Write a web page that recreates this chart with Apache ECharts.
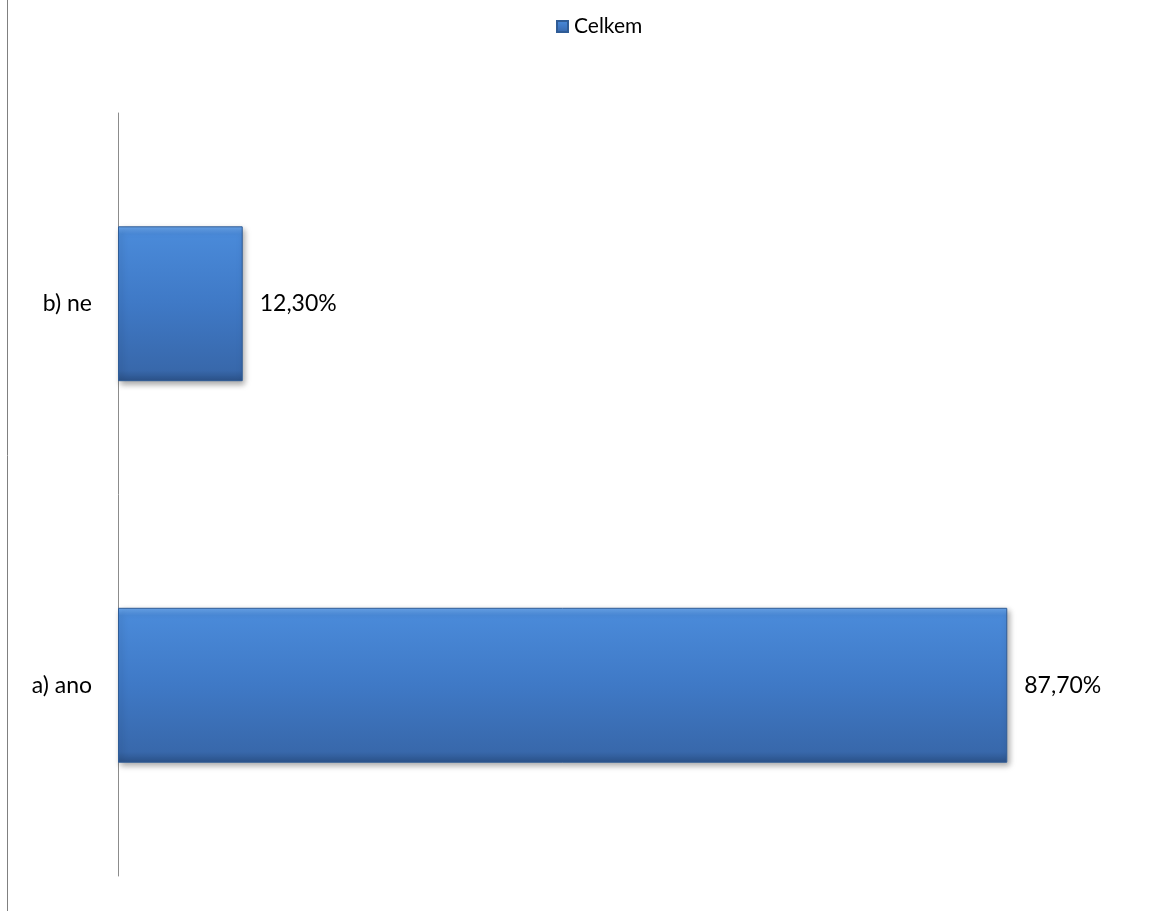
<!DOCTYPE html>
<html>
<head>
<meta charset="utf-8">
<script src="https://cdn.jsdelivr.net/npm/echarts@6/dist/echarts.min.js"></script>
<style>html,body{margin:0;padding:0;background:#fff}#c{width:1158px;height:911px}</style>
</head>
<body>
<div id="c"></div>
<script>
const categories = ['a) ano', 'b) ne'];
const seriesName = 'Celkem';
const values = [87.7, 12.3];
const axisMax = 100;

const chart = echarts.init(document.getElementById('c'));
const FONT = 'Lato, "Open Sans", sans-serif';
const fmt = v => v.toFixed(2).replace('.', ',') + '%';
const barColor = new echarts.graphic.LinearGradient(0, 0, 0, 1, [
  {offset: 0, color: '#6aa6ec'},
  {offset: 0.05, color: '#4a8ad9'},
  {offset: 0.5, color: '#3f79c6'},
  {offset: 0.93, color: '#3868ab'},
  {offset: 1, color: '#2b5289'}
]);
chart.setOption({
  animation: false,
  textStyle: {fontFamily: FONT},
  legend: {
    top: 16, left: 556, padding: 0,
    icon: 'rect', itemWidth: 11, itemHeight: 11, itemGap: 6,
    textStyle: {fontSize: 21, color: '#000', fontFamily: FONT, padding: [0, 0, 0, 1]},
    data: [seriesName]
  },
  grid: {left: 118, right: 26, top: 113, bottom: 35, containLabel: false},
  xAxis: {
    type: 'value', min: 0, max: axisMax,
    show: false, splitLine: {show: false}
  },
  yAxis: {
    type: 'category', data: categories,
    axisLine: {show: true, lineStyle: {color: '#8c8c8c', width: 1}},
    axisTick: {show: false},
    axisLabel: {fontSize: 23, color: '#000', margin: 26, fontFamily: FONT}
  },
  series: [{
    name: seriesName,
    type: 'bar',
    data: values,
    barWidth: '40.6%',
    itemStyle: {
      color: barColor,
      borderColor: '#2f5c96', borderWidth: 1,
      shadowColor: 'rgba(0,0,0,0.35)', shadowBlur: 6, shadowOffsetX: 2, shadowOffsetY: 3
    },
    label: {
      show: true, position: 'right', distance: 17,
      fontSize: 23, color: '#000', fontFamily: FONT,
      formatter: p => fmt(p.value)
    }
  }],
  graphic: [{
    type: 'line', silent: true,
    shape: {x1: 7.5, y1: 0, x2: 7.5, y2: 911},
    style: {stroke: '#808080', lineWidth: 1}
  }]
});
</script>
</body>
</html>
